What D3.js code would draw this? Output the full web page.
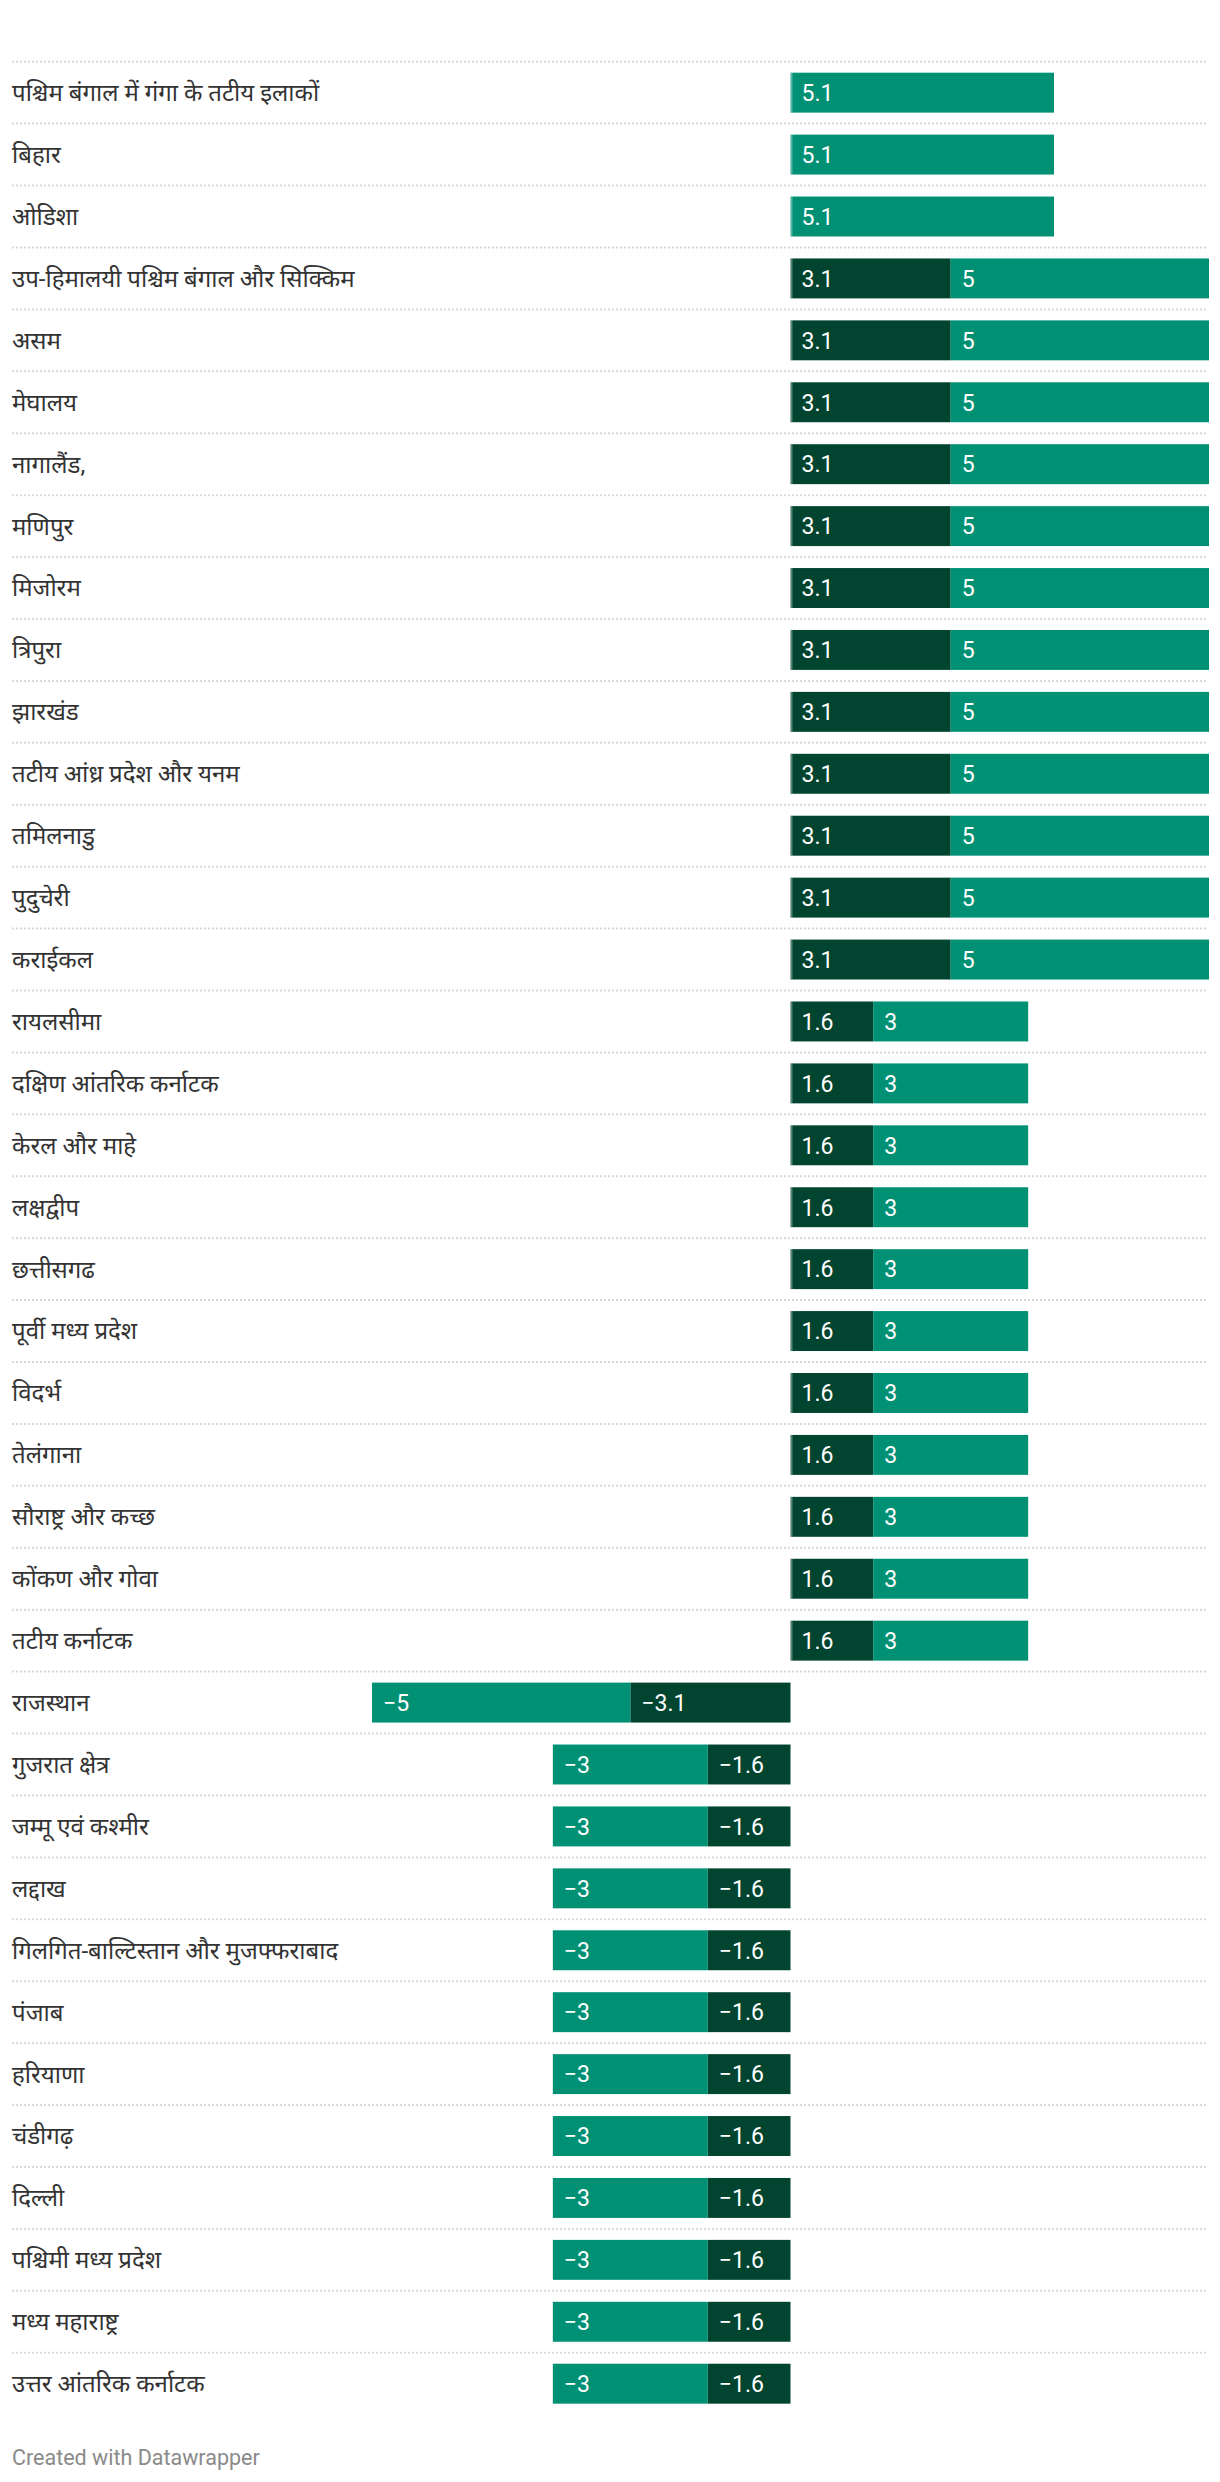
<!DOCTYPE html>
<html>
<head>
<meta charset="utf-8">
<script src="https://cdn.jsdelivr.net/npm/d3@7"></script>
<style>
  html, body { margin: 0; padding: 0; background: #fff; }
  svg { display: block; font-family: Roboto, "Noto Sans Devanagari", "Noto Sans", sans-serif; }
</style>
</head>
<body>
<svg id="chart" width="1220" height="2482"></svg>
<script>
const categories = [
  "पश्चिम बंगाल में गंगा के तटीय इलाकों",
  "बिहार",
  "ओडिशा",
  "उप-हिमालयी पश्चिम बंगाल और सिक्किम",
  "असम",
  "मेघालय",
  "नागालैंड,",
  "मणिपुर",
  "मिजोरम",
  "त्रिपुरा",
  "झारखंड",
  "तटीय आंध्र प्रदेश और यनम",
  "तमिलनाडु",
  "पुदुचेरी",
  "कराईकल",
  "रायलसीमा",
  "दक्षिण आंतरिक कर्नाटक",
  "केरल और माहे",
  "लक्षद्वीप",
  "छत्तीसगढ",
  "पूर्वी मध्य प्रदेश",
  "विदर्भ",
  "तेलंगाना",
  "सौराष्ट्र और कच्छ",
  "कोंकण और गोवा",
  "तटीय कर्नाटक",
  "राजस्थान",
  "गुजरात क्षेत्र",
  "जम्मू एवं कश्मीर",
  "लद्दाख",
  "गिलगित-बाल्टिस्तान और मुजफ्फराबाद",
  "पंजाब",
  "हरियाणा",
  "चंडीगढ़",
  "दिल्ली",
  "पश्चिमी मध्य प्रदेश",
  "मध्य महाराष्ट्र",
  "उत्तर आंतरिक कर्नाटक"
];

// first (inner, dark) series
const darkValues = [
  0, 0, 0,
  3.1, 3.1, 3.1, 3.1, 3.1, 3.1, 3.1, 3.1, 3.1, 3.1, 3.1, 3.1,
  1.6, 1.6, 1.6, 1.6, 1.6, 1.6, 1.6, 1.6, 1.6, 1.6, 1.6,
  -3.1,
  -1.6, -1.6, -1.6, -1.6, -1.6, -1.6, -1.6, -1.6, -1.6, -1.6, -1.6
];

// second (outer, teal) series
const tealValues = [
  5.1, 5.1, 5.1,
  5, 5, 5, 5, 5, 5, 5, 5, 5, 5, 5, 5,
  3, 3, 3, 3, 3, 3, 3, 3, 3, 3, 3,
  -5,
  -3, -3, -3, -3, -3, -3, -3, -3, -3, -3, -3
];

const xDomain = [-8.1, 8.1];

const colors = { dark: "#014430", teal: "#009175" };

const svg = d3.select("#chart");

const topY = 61.7, rowStep = 61.92;
const y = d3.scaleBand()
  .domain(categories)
  .range([topY, topY + rowStep * categories.length])
  .paddingInner(0.355)
  .paddingOuter(0.1775);

const x = d3.scaleLinear().domain(xDomain).range([372, 1209]);

const rows = categories.map((c, i) => {
  const d = darkValues[i], t = tealValues[i];
  return { c, segs: [
    { v: d, x0: 0, x1: d, color: colors.dark },
    { v: t, x0: d, x1: d + t, color: colors.teal }
  ]};
});

const fmt = v => (v < 0 ? "\u2212" : "") + d3.format("")(Math.abs(v));

// gridlines
svg.append("g").selectAll("line").data(categories).join("line")
  .attr("x1", 12).attr("x2", 1208)
  .attr("y1", d => y(d) - y.step() * y.paddingInner() / 2)
  .attr("y2", d => y(d) - y.step() * y.paddingInner() / 2)
  .attr("stroke", "#d9d9d9")
  .attr("stroke-width", 2)
  .attr("stroke-dasharray", "2,2");

// labels
svg.append("g").selectAll("text").data(categories).join("text")
  .attr("x", 12)
  .attr("y", d => y(d) + y.bandwidth() / 2)
  .attr("dy", "0.35em")
  .attr("font-size", 24)
  .attr("fill", "#333")
  .text(d => d);

// bars
const g = svg.append("g");
rows.forEach(r => {
  const segs = r.segs.filter(s => s.v !== 0);
  const rg = g.append("g");
  rg.selectAll("rect").data(segs).join("rect")
    .attr("x", s => x(Math.min(s.x0, s.x1)))
    .attr("width", s => Math.abs(x(s.x1) - x(s.x0)))
    .attr("y", y(r.c))
    .attr("height", y.bandwidth())
    .attr("fill", s => s.color);
  rg.selectAll("text").data(segs).join("text")
    .attr("x", s => x(Math.min(s.x0, s.x1)) + 11)
    .attr("y", y(r.c) + y.bandwidth() / 2)
    .attr("dy", "0.36em")
    .attr("font-size", 23)
    .attr("fill", "#fff")
    .text(s => fmt(s.v));
  const total = r.segs[0].v + r.segs[1].v;
  if (total > 0) {
    rg.append("rect")
      .attr("x", x(0)).attr("width", 2)
      .attr("y", y(r.c)).attr("height", y.bandwidth())
      .attr("fill", "rgba(255,255,255,0.35)");
  }
});

// footer
svg.append("text")
  .attr("x", 12).attr("y", 2465)
  .attr("font-size", 21.5)
  .attr("fill", "#8a8a8a")
  .text("Created with Datawrapper");
</script>
</body>
</html>
